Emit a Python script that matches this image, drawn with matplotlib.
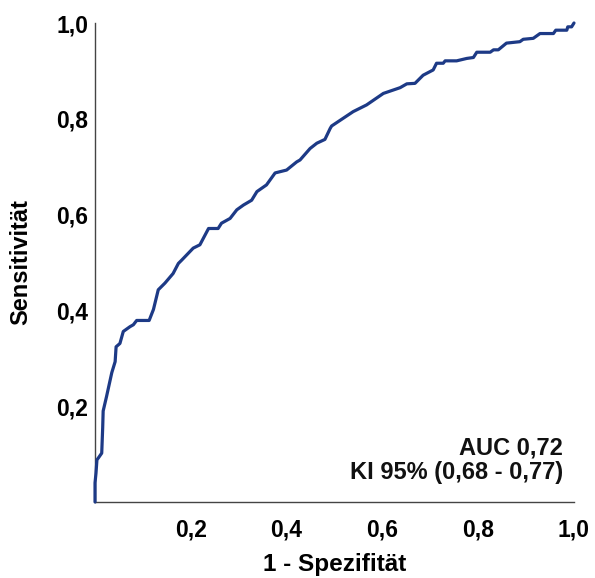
import matplotlib
matplotlib.use("Agg")
import matplotlib.pyplot as plt
from matplotlib.ticker import FixedLocator, FuncFormatter

# ROC curve points: false positive rate (1 - specificity) and sensitivity
fpr = [0.000, 0.000, 0.002, 0.004, 0.007, 0.014, 0.016, 0.017, 0.024, 0.035,
       0.042, 0.044, 0.052, 0.059, 0.073, 0.080, 0.087, 0.113, 0.122, 0.132,
       0.146, 0.163, 0.174, 0.181, 0.205, 0.219, 0.237, 0.257, 0.264, 0.282,
       0.296, 0.310, 0.327, 0.338, 0.358, 0.376, 0.400, 0.421, 0.428, 0.449,
       0.463, 0.480, 0.491, 0.494, 0.518, 0.539, 0.567, 0.602, 0.637, 0.651,
       0.668, 0.685, 0.706, 0.713, 0.727, 0.731, 0.755, 0.776, 0.790, 0.797,
       0.825, 0.832, 0.842, 0.859, 0.887, 0.894, 0.915, 0.929, 0.957, 0.962,
       0.985, 0.987, 0.995, 1.000]
tpr = [0.000, 0.040, 0.060, 0.088, 0.092, 0.102, 0.155, 0.190, 0.220, 0.270,
       0.293, 0.324, 0.331, 0.356, 0.366, 0.370, 0.379, 0.379, 0.402, 0.443,
       0.457, 0.477, 0.498, 0.505, 0.530, 0.537, 0.571, 0.571, 0.582, 0.592,
       0.610, 0.620, 0.630, 0.648, 0.662, 0.687, 0.693, 0.710, 0.714, 0.738,
       0.749, 0.757, 0.780, 0.785, 0.801, 0.815, 0.829, 0.853, 0.865, 0.873,
       0.874, 0.891, 0.902, 0.916, 0.916, 0.921, 0.921, 0.926, 0.928, 0.939,
       0.939, 0.944, 0.944, 0.958, 0.961, 0.966, 0.968, 0.978, 0.978, 0.985,
       0.985, 0.992, 0.992, 1.000]

x_ticks = [0.2, 0.4, 0.6, 0.8, 1.0]
y_ticks = [0.2, 0.4, 0.6, 0.8, 1.0]
auc_text = ["AUC 0,72", "KI 95% (0,68 - 0,77)"]

plt.rcParams["font.family"] = ["Liberation Sans", "DejaVu Sans"]
plt.rcParams["font.weight"] = "bold"

fig = plt.figure(figsize=(5.95, 5.78), dpi=100)
ax = fig.add_axes([0.1597, 0.1315, 0.8050, 0.8287])

ax.plot(fpr, tpr, color="#1d3a86", linewidth=2.3, solid_joinstyle="round",
        solid_capstyle="round", clip_on=False, zorder=3)

ax.set_xlim(0, 1)
ax.set_ylim(0, 1)

comma = FuncFormatter(lambda v, pos: f"{v:.1f}".replace(".", ","))
ax.xaxis.set_major_locator(FixedLocator(x_ticks))
ax.yaxis.set_major_locator(FixedLocator(y_ticks))
ax.xaxis.set_major_formatter(comma)
ax.yaxis.set_major_formatter(comma)
ax.tick_params(axis="x", length=0, pad=12, labelsize=16.5)
ax.tick_params(axis="y", length=0, pad=5, labelsize=16.5)
for lab in ax.get_xticklabels() + ax.get_yticklabels():
    lab.set_fontweight("bold")

for side in ("top", "right"):
    ax.spines[side].set_visible(False)
for side in ("left", "bottom"):
    ax.spines[side].set_color("#444444")
    ax.spines[side].set_linewidth(1.0)

ax.set_xlabel("1 - Spezifität", fontsize=17.5, fontweight="bold", labelpad=8)
ax.set_ylabel("Sensitivität", fontsize=17, fontweight="bold", labelpad=17)

ax.text(0.977, 0.088, auc_text[0] + "\n" + auc_text[1], transform=ax.transAxes,
        ha="right", va="center", fontsize=17, fontweight="bold",
        linespacing=1.08, color="#111111")

fig.savefig("out.png", dpi=100)
